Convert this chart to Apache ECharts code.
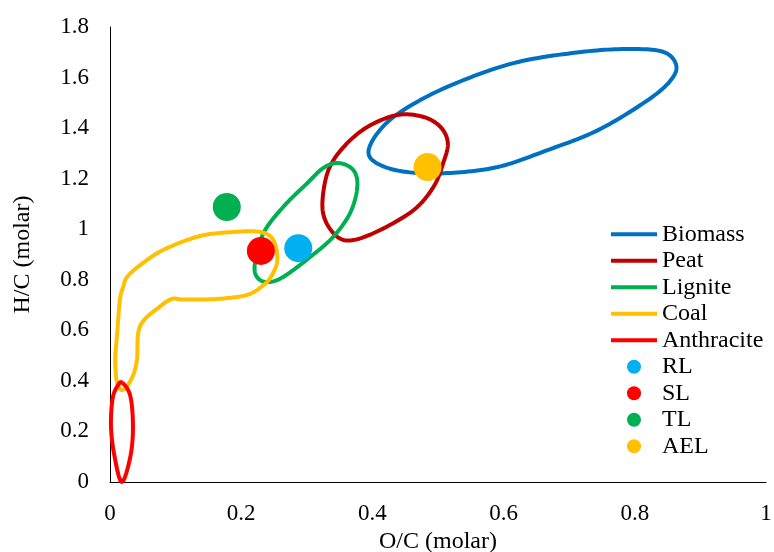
<!DOCTYPE html>
<html>
<head>
<meta charset="utf-8">
<script src="https://cdn.jsdelivr.net/npm/echarts@6/dist/echarts.min.js"></script>
<style>html,body{margin:0;padding:0;background:#fff;}#c{width:774px;height:552px;}</style>
</head>
<body>
<div id="c"></div>
<script>
// Region outlines (O/C, H/C), closed loops
var biomass = [[0.394,1.301],[0.408,1.381],[0.443,1.464],[0.514,1.563],[0.615,1.657],[0.718,1.701],[0.794,1.713],[0.844,1.701],[0.863,1.650],[0.855,1.590],[0.820,1.511],[0.744,1.392],[0.667,1.313],[0.591,1.246],[0.514,1.222],[0.453,1.226],[0.412,1.254]];
var peat = [[0.324,1.116],[0.333,1.234],[0.356,1.325],[0.392,1.404],[0.438,1.452],[0.478,1.444],[0.504,1.404],[0.515,1.341],[0.508,1.262],[0.493,1.167],[0.463,1.076],[0.412,0.997],[0.371,0.957],[0.347,0.969],[0.328,1.036]];
var lignite = [[0.348,1.262],[0.371,1.234],[0.377,1.167],[0.366,1.064],[0.340,0.969],[0.305,0.890],[0.264,0.811],[0.240,0.791],[0.224,0.811],[0.221,0.866],[0.234,0.985],[0.264,1.088],[0.301,1.183],[0.325,1.242]];
var coal = [[0.020,0.364],[0.011,0.392],[0.008,0.483],[0.011,0.589],[0.015,0.720],[0.020,0.771],[0.026,0.811],[0.046,0.858],[0.081,0.918],[0.137,0.973],[0.188,0.989],[0.229,0.989],[0.249,0.957],[0.255,0.878],[0.247,0.819],[0.234,0.779],[0.209,0.740],[0.163,0.724],[0.113,0.722],[0.094,0.724],[0.074,0.690],[0.052,0.641],[0.043,0.589],[0.041,0.483],[0.034,0.415]];
var anthracite = [[0.019,0.392],[0.031,0.340],[0.035,0.218],[0.031,0.100],[0.018,0.0],[0.007,0.100],[0.0015,0.218],[0.004,0.330],[0.012,0.382]];
// Samples
var RL = [[0.287,0.925]];
var SL = [[0.230,0.914]];
var TL = [[0.178,1.088]];
var AEL = [[0.484,1.246]];
var xTicks = [0,0.2,0.4,0.6,0.8,1];
var yTicks = [0,0.2,0.4,0.6,0.8,1,1.2,1.4,1.6,1.8];

var font = '"Liberation Serif","Times New Roman",serif';

function closedSpline(pts, steps){
  var n = pts.length, out = [];
  for (var i = 0; i < n; i++){
    var p0 = pts[(i-1+n)%n], p1 = pts[i], p2 = pts[(i+1)%n], p3 = pts[(i+2)%n];
    for (var s = 0; s < steps; s++){
      var t = s/steps, t2 = t*t, t3 = t2*t;
      var f = function(a,b,c,d){return 0.5*((2*b)+(-a+c)*t+(2*a-5*b+4*c-d)*t2+(-a+3*b-3*c+d)*t3);};
      out.push([f(p0[0],p1[0],p2[0],p3[0]), f(p0[1],p1[1],p2[1],p3[1])]);
    }
  }
  out.push(out[0]);
  return out;
}
function loop(name, data, color){
  return {name:name,type:'custom',coordinateSystem:'cartesian2d',data:data,
    itemStyle:{color:color},z:2,
    renderItem:function(params, api){
      if (params.dataIndex !== 0) return null;
      var px = data.map(function(p){return api.coord(p);});
      return {type:'polyline',shape:{points:closedSpline(px,14)},
        style:{stroke:color,lineWidth:4,fill:null,lineJoin:'round'}};
    }};
}
function pt(name, data, color){
  return {name:name,type:'scatter',data:data,symbol:'circle',symbolSize:28,
    itemStyle:{color:color,opacity:1},z:3};
}
var lineIcon = 'path://M0,0L46,0L46,4L0,4Z';
var chart = echarts.init(document.getElementById('c'));
chart.setOption({
  animation:false,
  backgroundColor:'#fff',
  grid:{left:110,right:8,top:27,bottom:70,containLabel:false,outerBoundsMode:'none'},
  xAxis:{type:'value',min:xTicks[0],max:xTicks[xTicks.length-1],interval:0.2,
    name:'O/C (molar)',nameLocation:'middle',nameGap:46,
    nameTextStyle:{fontFamily:font,fontSize:24,color:'#000'},
    axisLine:{show:true,lineStyle:{color:'#000',width:1}},axisTick:{show:false},
    splitLine:{show:false},
    axisLabel:{fontFamily:font,fontSize:23,color:'#000',margin:20}},
  yAxis:{type:'value',min:yTicks[0],max:yTicks[yTicks.length-1],interval:0.2,
    name:'H/C (molar)',nameLocation:'middle',nameGap:75,
    nameTextStyle:{fontFamily:font,fontSize:24,color:'#000'},
    axisLine:{show:true,lineStyle:{color:'#000',width:1}},axisTick:{show:false},
    splitLine:{show:false},
    axisLabel:{fontFamily:font,fontSize:23,color:'#000',margin:21}},
  legend:{orient:'vertical',left:611,top:222,padding:0,itemWidth:46,itemHeight:14,itemGap:2,
    textStyle:{fontFamily:font,fontSize:24,lineHeight:24.5,color:'#000'},
    data:[
      {name:'Biomass',icon:lineIcon},
      {name:'Peat',icon:lineIcon},
      {name:'Lignite',icon:lineIcon},
      {name:'Coal',icon:lineIcon},
      {name:'Anthracite',icon:lineIcon},
      {name:'RL',icon:'circle'},{name:'SL',icon:'circle'},{name:'TL',icon:'circle'},{name:'AEL',icon:'circle'}
    ]},
  series:[
    loop('Biomass',biomass,'#0070C0'),
    loop('Peat',peat,'#C00000'),
    loop('Lignite',lignite,'#00B050'),
    loop('Coal',coal,'#FFC000'),
    loop('Anthracite',anthracite,'#FF0000'),
    pt('RL',RL,'#00B0F0'),
    pt('SL',SL,'#FF0000'),
    pt('TL',TL,'#00B050'),
    pt('AEL',AEL,'#FFC000')
  ]
});
</script>
</body>
</html>
